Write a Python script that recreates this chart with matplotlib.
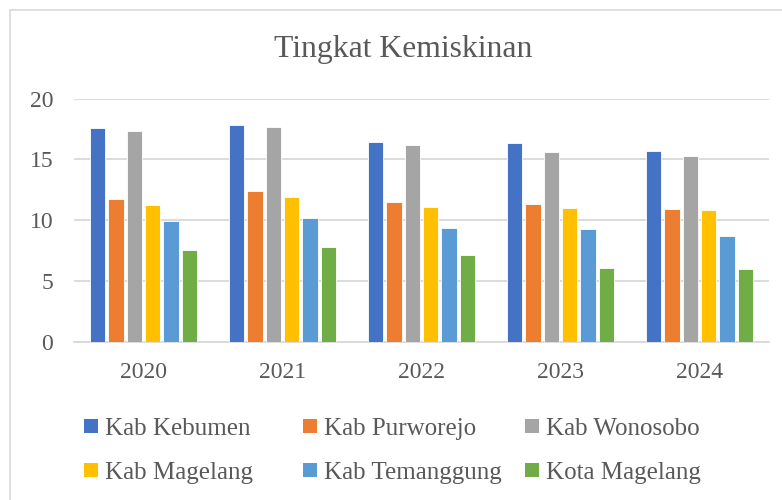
import matplotlib
matplotlib.use("Agg")
import matplotlib.pyplot as plt
import numpy as np
from matplotlib.patches import Rectangle

years = ["2020", "2021", "2022", "2023", "2024"]
series_names = ["Kab Kebumen", "Kab Purworejo", "Kab Wonosobo",
                "Kab Magelang", "Kab Temanggung", "Kota Magelang"]
kebumen = [17.59, 17.83, 16.43, 16.35, 15.71]
purworejo = [11.78, 12.40, 11.52, 11.33, 10.90]
wonosobo = [17.36, 17.67, 16.17, 15.59, 15.27]
magelang = [11.27, 11.91, 11.08, 11.00, 10.84]
temanggung = [9.96, 10.18, 9.36, 9.26, 8.70]
kota_magelang = [7.58, 7.77, 7.11, 6.09, 5.96]
values = [kebumen, purworejo, wonosobo, magelang, temanggung, kota_magelang]
colors = ["#4472C4", "#ED7D31", "#A5A5A5", "#FFC000", "#5B9BD5", "#70AD47"]
yticks = [0, 5, 10, 15, 20]

FONT = "Liberation Serif"
TXT = "#595959"
GRID = "#D9D9D9"

fig = plt.figure(figsize=(7.82, 5.0), dpi=100)
W, H = 782, 500

# chart outer border (extends beyond the image to the right/bottom)
fig.patches.append(Rectangle((9.5 / W, -0.1), 1.2, (H - 10) / H + 0.1,
                             transform=fig.transFigure, fill=False,
                             edgecolor=GRID, linewidth=1.2))

ax = fig.add_axes([74 / W, (H - 341.7) / H, (769 - 74) / W, (341.7 - 98.7) / H])
x = np.arange(len(years))
pitch = 0.132
handles = []
for i, (name, vals, c) in enumerate(zip(series_names, values, colors)):
    b = ax.bar(x + (i - 2.5) * pitch, vals, width=0.112, color=c,
               edgecolor="white", linewidth=0.6, label=name, zorder=3)
    handles.append(b)

ax.set_xlim(-0.5, len(years) - 0.5)
ax.set_ylim(0, 20)
ax.set_yticks(yticks)
ax.set_xticks(x)
ax.set_xticklabels(years)
ax.grid(axis="y", color=GRID, linewidth=1.3, zorder=0)
for s in ["top", "right", "left"]:
    ax.spines[s].set_visible(False)
ax.spines["bottom"].set_color(GRID)
ax.spines["bottom"].set_linewidth(1.3)
ax.tick_params(axis="both", length=0, labelsize=17, labelcolor=TXT)
ax.tick_params(axis="y", pad=15)
ax.tick_params(axis="x", pad=14.5)
for lab in ax.get_xticklabels() + ax.get_yticklabels():
    lab.set_fontfamily(FONT)

fig.text(403.5 / W, 1 - 50 / H, "Tingkat Kemiskinan", ha="center", va="center",
         fontsize=22.8, color=TXT, fontfamily=FONT)

# legend: three columns, two rows (row-wise order as in the chart)
col_x = [84 / W, 303 / W, 525 / W]
for ci in range(3):
    leg = fig.legend(handles=[handles[ci], handles[ci + 3]],
                     labels=[series_names[ci], series_names[ci + 3]],
                     loc="upper left", bbox_to_anchor=(col_x[ci], 1 - 418 / H),
                     frameon=False, prop={"family": FONT, "size": 18},
                     handlelength=0.55, handleheight=0.5, handletextpad=0.3,
                     labelspacing=0.88, borderpad=0, borderaxespad=0)
    for t in leg.get_texts():
        t.set_color(TXT)
    for p in leg.legend_handles:
        p.set_edgecolor("none")

fig.savefig("out.png", dpi=100)
